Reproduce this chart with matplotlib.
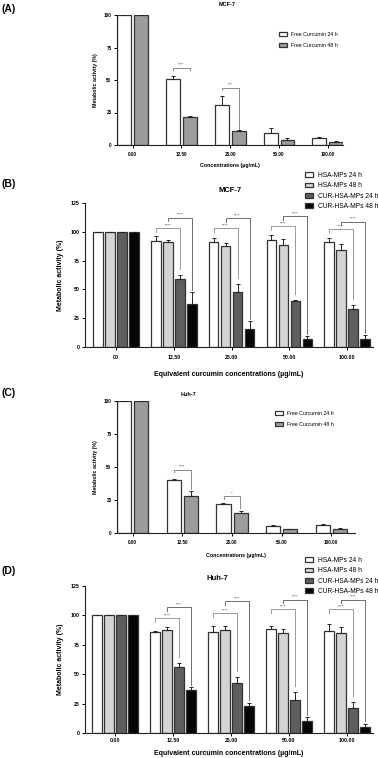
import numpy as np
import matplotlib.pyplot as plt

plt.rcParams['font.family'] = ['Liberation Sans', 'DejaVu Sans']

W, H = 378, 758

# ── Datos ───────────────────────────────────────────────────────────────────
conc_free = ["0.00", "12.50", "25.00", "50.00", "100.00"]
conc_mps_b = ["00", "12.50", "25.00", "50.00", "100.00"]
conc_mps_d = ["0.00", "12.50", "25.00", "50.00", "100.00"]

free_labels = ["Free Curcumin 24 h", "Free Curcumin 48 h"]
mps_labels = ["HSA-MPs 24 h", "HSA-MPs 48 h", "CUR-HSA-MPs 24 h", "CUR-HSA-MPs 48 h"]

# (A) MCF-7, curcumina libre
a_24 = [100, 50.4, 31.0, 9.2, 5.3]
a_24_err = [0, 2.6, 6.5, 3.8, 1.0]
a_48 = [100, 21.8, 11.1, 3.6, 2.6]
a_48_err = [0, 0.5, 0.3, 1.8, 0.7]

# (B) MCF-7, micropartículas
b_hsa24 = [100, 92.4, 91.0, 93.0, 91.0]
b_hsa24_err = [0, 3.8, 3.2, 4.0, 3.2]
b_hsa48 = [100, 91.0, 87.8, 88.9, 84.6]
b_hsa48_err = [0, 2.3, 2.2, 5.0, 4.9]
b_cur24 = [100, 58.7, 47.4, 39.8, 32.8]
b_cur24_err = [0, 4.1, 7.6, 0.9, 3.8]
b_cur48 = [100, 37.5, 16.0, 7.3, 7.3]
b_cur48_err = [0, 10.2, 6.4, 2.3, 3.2]

# (C) Huh-7, curcumina libre
c_24 = [100, 40.4, 22.0, 5.3, 6.0]
c_24_err = [0, 0.4, 1.0, 0.5, 1.0]
c_48 = [100, 28.0, 15.4, 2.8, 2.8]
c_48_err = [0, 3.6, 1.6, 0.5, 0.7]

# (D) Huh-7, micropartículas
d_hsa24 = [100, 85.7, 86.2, 88.5, 86.8]
d_hsa24_err = [0, 1.1, 4.6, 2.5, 6.3]
d_hsa48 = [100, 87.4, 87.6, 84.8, 85.4]
d_hsa48_err = [0, 2.9, 3.2, 4.0, 4.9]
d_cur24 = [100, 56.0, 42.8, 28.2, 21.0]
d_cur24_err = [0, 3.8, 4.6, 6.6, 5.6]
d_cur48 = [100, 36.5, 22.7, 10.6, 5.4]
d_cur48_err = [0, 2.6, 3.2, 2.9, 2.6]

# significancia: (grupo, altura, texto)
sig_a = [(1, 59.5, "****"), (2, 44.0, "***")]
sig_c = [(1, 48.0, "****"), (2, 28.0, "*")]
# B/D: (grupo, altura inferior, altura superior)
sig_b = [(1, 102.9, 112.2), (2, 102.9, 111.6), (3, 104.7, 113.4), (4, 102.0, 108.7)]
sig_d = [(1, 97.7, 106.9), (2, 102.0, 112.0), (3, 105.4, 113.3), (4, 105.4, 113.3)]

EDGE = "#333333"
FREE_COLORS = ["white", "#9c9c9c"]
MPS_COLORS = ["white", "#d4d4d4", "#5e5e5e", "#050505"]


def box(left, top, right, bottom):
    return [left / W, 1 - bottom / H, (right - left) / W, (bottom - top) / H]


def estilo(ax, ticks, yticks, tick_fs, xpad):
    ax.spines["top"].set_visible(False)
    ax.spines["right"].set_visible(False)
    for s in ["left", "bottom"]:
        ax.spines[s].set_linewidth(0.8)
        ax.spines[s].set_color("#222222")
    ax.set_xticks(range(len(ticks)))
    ax.set_xticklabels(ticks, fontsize=tick_fs, fontweight="bold")
    ax.set_yticks(yticks)
    ax.set_yticklabels([str(v) for v in yticks], fontsize=tick_fs, fontweight="bold")
    ax.tick_params(length=2, width=0.7, pad=2)
    ax.tick_params(axis="x", pad=xpad)


def barras(ax, series, errores, colores, width, step):
    n = len(series)
    x = np.arange(len(series[0]))
    handles = []
    for i, (vals, errs, col) in enumerate(zip(series, errores, colores)):
        pos = x + (i - (n - 1) / 2) * step
        h = ax.bar(pos, vals, width, color=col, edgecolor=EDGE, linewidth=0.9, zorder=2)
        ax.errorbar(pos, vals, yerr=[np.zeros(len(errs)), errs], fmt="none",
                    ecolor="#222222", elinewidth=0.7, capsize=1.5, capthick=0.7, zorder=3)
        handles.append(h)
    return handles


def corchete(ax, x1, x2, y, y1, y2, txt, color, fs):
    ax.plot([x1, x1, x2, x2], [y1, y, y, y2], color=color, lw=0.6, zorder=4, clip_on=False)
    ax.text((x1 + x2) / 2, y + 0.5, txt, ha="center", va="bottom", fontsize=fs, color="#444444")


fig = plt.figure(figsize=(W / 100, H / 100), dpi=100)

# ── (A) ─────────────────────────────────────────────────────────────────────
axA = fig.add_axes(box(117, 15, 343, 145))
hA = barras(axA, [a_24, a_48], [a_24_err, a_48_err], FREE_COLORS, 0.285, 0.345)
axA.set_xlim(-0.32, 4.31)
axA.set_ylim(0, 100)
estilo(axA, conc_free, [0, 25, 50, 75, 100], 3.3, 3)
axA.set_ylabel("Metabolic activity (%)", fontsize=3.8, fontweight="bold", labelpad=4)
axA.set_xlabel("Concentrations (µg/mL)", fontsize=3.8, fontweight="bold", labelpad=4)
for g, y, t in sig_a:
    x1, x2 = g - 0.17, g + 0.17
    top2 = a_48[g] + a_48_err[g] + 1
    corchete(axA, x1, x2, y, y - 2, top2 if g == 2 else y - 2, t, "#777777", 3)
axA.legend(hA, free_labels, loc="upper left", bbox_to_anchor=(274 / W, 1 - 27 / H),
           bbox_transform=fig.transFigure, frameon=False, fontsize=3.8,
           handlelength=1.5, handleheight=0.8, labelspacing=1.15, handletextpad=0.8)
fig.text(227 / W, 1 - 4 / H, "MCF-7", ha="center", va="center", fontsize=4, fontweight="bold")
fig.text(0.003, 1 - 9 / H, "(A)", ha="left", va="center", fontsize=7.5, fontweight="bold")

# ── (B) ─────────────────────────────────────────────────────────────────────
axB = fig.add_axes(box(85, 203, 373, 347))
hB = barras(axB, [b_hsa24, b_hsa48, b_cur24, b_cur48],
            [b_hsa24_err, b_hsa48_err, b_cur24_err, b_cur48_err], MPS_COLORS, 0.165, 0.208)
axB.set_xlim(-0.54, 4.45)
axB.set_ylim(0, 125)
estilo(axB, conc_mps_b, [0, 25, 50, 75, 100, 125], 3.8, 4)
axB.set_ylabel("Metabolic activity (%)", fontsize=5, fontweight="bold", labelpad=5)
axB.set_xlabel("Equivalent curcumin concentrations (µg/mL)", fontsize=5,
               fontweight="bold", labelpad=8)
for g, ylo, yhi in sig_b:
    p = [g - 0.312, g - 0.104, g + 0.104, g + 0.312]
    corchete(axB, p[0], p[2], ylo, ylo - 3, b_cur24[g] + b_cur24_err[g] + 5,
             "****", "#8a8a8a", 3)
    corchete(axB, p[1], p[3], yhi, yhi - 3, b_cur48[g] + b_cur48_err[g] + 2,
             "****", "#555555", 3)
axB.legend(hB, mps_labels, loc="upper left", bbox_to_anchor=(299 / W, 1 - 166 / H),
           bbox_transform=fig.transFigure, frameon=False, fontsize=4.8,
           handlelength=1.2, handleheight=0.7, labelspacing=0.5, handletextpad=0.8)
fig.text(230 / W, 1 - 190 / H, "MCF-7", ha="center", va="center", fontsize=5.5, fontweight="bold")
fig.text(0.003, 1 - 184 / H, "(B)", ha="left", va="center", fontsize=7.5, fontweight="bold")

# ── (C) ─────────────────────────────────────────────────────────────────────
axC = fig.add_axes(box(117, 401, 355, 533))
hC = barras(axC, [c_24, c_48], [c_24_err, c_48_err], FREE_COLORS, 0.285, 0.345)
axC.set_xlim(-0.32, 4.48)
axC.set_ylim(0, 100)
estilo(axC, conc_free, [0, 25, 50, 75, 100], 3.3, 3)
axC.set_ylabel("Metabolic activity (%)", fontsize=3.8, fontweight="bold", labelpad=4)
axC.set_xlabel("Concentrations (µg/mL)", fontsize=3.8, fontweight="bold", labelpad=6)
for g, y, t in sig_c:
    x1, x2 = g - 0.17, g + 0.17
    corchete(axC, x1, x2, y, y - 2, c_48[g] + c_48_err[g] + 2, t, "#777777", 3)
axC.legend(hC, free_labels, loc="upper left", bbox_to_anchor=(270 / W, 1 - 406 / H),
           bbox_transform=fig.transFigure, frameon=False, fontsize=3.8,
           handlelength=1.5, handleheight=0.8, labelspacing=1.2, handletextpad=0.8)
fig.text(188 / W, 1 - 394 / H, "Huh-7", ha="center", va="center", fontsize=4, fontweight="bold")
fig.text(0.003, 1 - 393 / H, "(C)", ha="left", va="center", fontsize=7.5, fontweight="bold")

# ── (D) ─────────────────────────────────────────────────────────────────────
axD = fig.add_axes(box(85, 586, 373, 733))
hD = barras(axD, [d_hsa24, d_hsa48, d_cur24, d_cur48],
            [d_hsa24_err, d_hsa48_err, d_cur24_err, d_cur48_err], MPS_COLORS, 0.165, 0.208)
axD.set_xlim(-0.52, 4.45)
axD.set_ylim(0, 125)
estilo(axD, conc_mps_d, [0, 25, 50, 75, 100, 125], 3.8, 1.5)
axD.set_ylabel("Metabolic activity (%)", fontsize=5, fontweight="bold", labelpad=5)
axD.set_xlabel("Equivalent curcumin concentrations (µg/mL)", fontsize=5,
               fontweight="bold", labelpad=5)
for g, ylo, yhi in sig_d:
    p = [g - 0.312, g - 0.104, g + 0.104, g + 0.312]
    corchete(axD, p[0], p[2], ylo, ylo - 3, d_cur24[g] + d_cur24_err[g] + 5,
             "****", "#8a8a8a", 3)
    corchete(axD, p[1], p[3], yhi, yhi - 3, d_cur48[g] + d_cur48_err[g] + 2,
             "****", "#555555", 3)
axD.legend(hD, mps_labels, loc="upper left", bbox_to_anchor=(299 / W, 1 - 551 / H),
           bbox_transform=fig.transFigure, frameon=False, fontsize=4.8,
           handlelength=1.2, handleheight=0.7, labelspacing=0.5, handletextpad=0.8)
fig.text(217 / W, 1 - 579 / H, "Huh-7", ha="center", va="center", fontsize=5.5, fontweight="bold")
fig.text(0.003, 1 - 571 / H, "(D)", ha="left", va="center", fontsize=7.5, fontweight="bold")

fig.savefig("out.png", dpi=100)
